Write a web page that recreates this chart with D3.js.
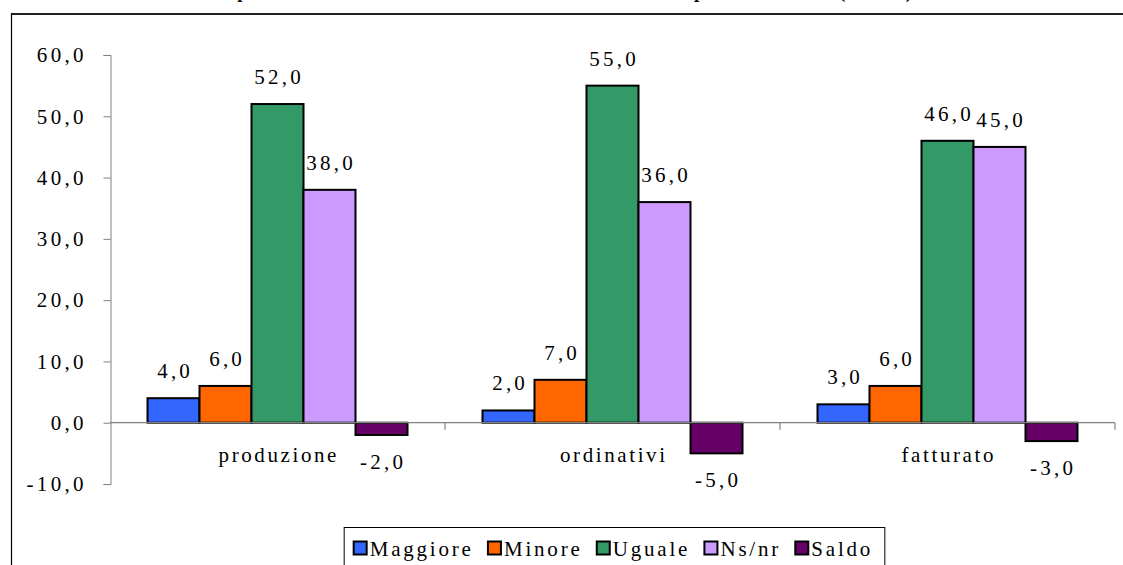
<!DOCTYPE html>
<html>
<head>
<meta charset="utf-8">
<script src="https://cdn.jsdelivr.net/npm/d3@7"></script>
</head>
<body style="margin:0; background:#fff">
<svg id="canvas" width="1123" height="565"></svg>
<script>
// categories and series
let categories = ['produzione', 'ordinativi', 'fatturato'];
let seriesNames = ['Maggiore', 'Minore', 'Uguale', 'Ns/nr', 'Saldo'];
let seriesColors = ['#3366ff', '#ff6600', '#339966', '#cc99ff', '#660066'];

// values per category, one list per series
let maggiore = [4, 2, 3];
let minore = [6, 7, 6];
let uguale = [52, 55, 46];
let nsnr = [38, 36, 45];
let saldo = [-2, -5, -3];

let yTicks = [-10, 0, 10, 20, 30, 40, 50, 60];

let seriesValues = [maggiore, minore, uguale, nsnr, saldo];

let FONT = '"Times New Roman", monospace';
let fmt = v => d3.format('.1f')(v).replace('.', ',').replace('−', '-');

// widen the text the way the original spreads its letters
let spread = (sel, ls) => sel.each(function () {
    let n = this.getComputedTextLength();
    let k = this.textContent.length;
    d3.select(this).attr('textLength', n + (k - 1) * ls).attr('lengthAdjust', 'spacing');
});

let canvas = d3.select('#canvas');

// outer frame (cut by the window on the right and bottom)
canvas.append('line')
    .attr('x1', 11).attr('x2', 1123).attr('y1', 14).attr('y2', 14)
    .attr('stroke', '#222').attr('stroke-width', 2);
canvas.append('line')
    .attr('x1', 11.5).attr('x2', 11.5).attr('y1', 13).attr('y2', 565)
    .attr('stroke', '#000').attr('stroke-width', 1.2);

// title, mostly above the visible area (as in the original)
canvas.append('text')
    .attr('x', 214).attr('y', -2)
    .attr('textLength', 698).attr('lengthAdjust', 'spacing')
    .style('font-family', FONT)
    .style('font-weight', 'bold').style('font-size', '19px')
    .text("Aspettative sull'andamento di ordinativi e fatturato per il trimestre (val. %)");

// scales
let x = d3.scaleBand().domain(categories).range([110, 1115]);
let xInner = d3.scaleBand().domain(seriesNames).range([37.5, x.bandwidth() - 37.5]);
let y = d3.scaleLinear().domain([-10, 60]).range([484, 55]);

// y axis
let yAxis = canvas.append('g')
    .attr('transform', 'translate(110.5,0)')
    .call(d3.axisLeft(y).tickValues(yTicks).tickSize(7).tickPadding(20).tickFormat(fmt));
yAxis.select('.domain').attr('stroke', '#808080');
yAxis.selectAll('.tick line').attr('stroke', '#808080');
yAxis.selectAll('.tick text')
    .style('font-family', FONT)
    .style('font-size', '21px')
    .attr('fill', '#000')
    .call(spread, 3.3);

// bars
let groups = canvas.selectAll('g.cat')
    .data(categories)
    .enter()
    .append('g')
    .attr('class', 'cat')
    .attr('transform', c => `translate(${x(c)},0)`);

groups.selectAll('rect')
    .data((c, i) => seriesNames.map((s, j) => ({ s: s, v: seriesValues[j][i], color: seriesColors[j] })))
    .enter()
    .append('rect')
    .attr('x', d => xInner(d.s))
    .attr('width', xInner.bandwidth())
    .attr('y', d => y(Math.max(0, d.v)))
    .attr('height', d => Math.abs(y(d.v) - y(0)))
    .attr('fill', d => d.color)
    .attr('stroke', '#000')
    .attr('stroke-width', 2);

// x axis line with boundary ticks
canvas.append('line')
    .attr('x1', 110).attr('x2', 1115)
    .attr('y1', y(0)).attr('y2', y(0))
    .attr('stroke', '#808080').attr('stroke-width', 1.2);
canvas.selectAll('line.xtick')
    .data(categories)
    .enter()
    .append('line')
    .attr('class', 'xtick')
    .attr('x1', c => x(c) + x.bandwidth()).attr('x2', c => x(c) + x.bandwidth())
    .attr('y1', y(0)).attr('y2', y(0) + 7)
    .attr('stroke', '#808080').attr('stroke-width', 1.2);

// category labels
canvas.selectAll('text.cat-label')
    .data(categories)
    .enter()
    .append('text')
    .attr('class', 'cat-label')
    .attr('x', c => x(c) + x.bandwidth() / 2)
    .attr('y', 462)
    .attr('text-anchor', 'middle')
    .style('font-family', FONT)
    .style('font-size', '21px')
    .text(c => c)
    .call(spread, 2.6);

// value labels
groups.selectAll('text.val')
    .data((c, i) => seriesNames.map((s, j) => ({ s: s, v: seriesValues[j][i] })))
    .enter()
    .append('text')
    .attr('class', 'val')
    .attr('x', d => xInner(d.s) + xInner.bandwidth() / 2)
    .attr('y', d => d.v >= 0 ? y(d.v) - 20 : y(d.v) + 34)
    .attr('text-anchor', 'middle')
    .style('font-family', FONT)
    .style('font-size', '21px')
    .text(d => fmt(d.v))
    .call(spread, 3.2);

// legend
let legend = canvas.append('g');
let legendBox = legend.append('rect')
    .attr('y', 527.5).attr('height', 40)
    .attr('fill', '#fff').attr('stroke', '#000').attr('stroke-width', 1);
let lx = 0;
let items = legend.selectAll('g.item')
    .data(seriesNames)
    .enter()
    .append('g')
    .attr('class', 'item');
items.append('rect')
    .attr('width', 13).attr('height', 13)
    .attr('y', 541.5)
    .attr('fill', (d, i) => seriesColors[i])
    .attr('stroke', '#000').attr('stroke-width', 2);
items.append('text')
    .attr('y', 556)
    .style('font-family', FONT)
    .style('font-size', '21px')
    .text(d => d)
    .call(spread, 2.8);
items.each(function () {
    let g = d3.select(this);
    g.select('rect').attr('x', lx);
    g.select('text').attr('x', lx + 16);
    lx += 16 + (+g.select('text').attr('textLength')) + 17;
});
let legendWidth = lx - 17;
let legendLeft = 612 - legendWidth / 2;
items.attr('transform', `translate(${legendLeft},0)`);
legendBox.attr('x', legendLeft - 9.5).attr('width', legendWidth + 24);
</script>
</body>
</html>
